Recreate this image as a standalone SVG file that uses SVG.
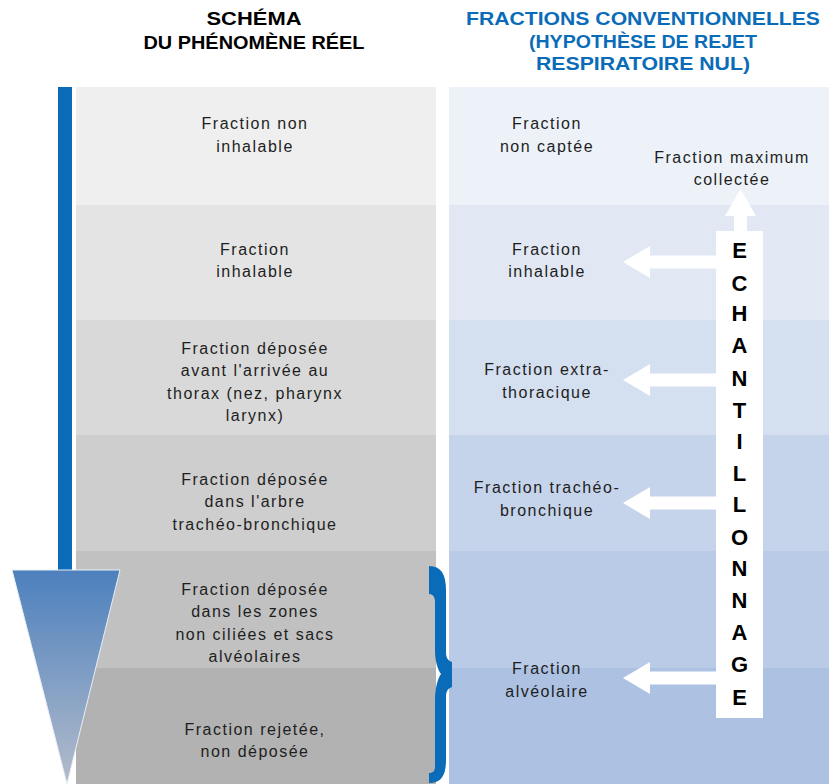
<svg xmlns="http://www.w3.org/2000/svg" width="829" height="784" viewBox="0 0 829 784">
<defs>
<style>
.t{font-family:"Liberation Sans",Arial,sans-serif;font-size:16px;fill:#1e1e1e;text-anchor:middle;letter-spacing:1.5px}
.h{font-family:"Liberation Sans",Arial,sans-serif;font-size:18px;font-weight:bold;text-anchor:middle}
.e{font-family:"Liberation Sans",Arial,sans-serif;font-size:22px;font-weight:bold;fill:#000;text-anchor:middle}
.arr{fill:#fff}
</style>
<linearGradient id="tri" x1="0" y1="0" x2="0" y2="1">
<stop offset="0" stop-color="#4c80bd"/>
<stop offset="1" stop-color="#b4bccb"/>
</linearGradient>
</defs>
<rect width="829" height="784" fill="#fff"/>
<g id="headers">
<text class="h" x="254" y="25" fill="#000" textLength="95" lengthAdjust="spacingAndGlyphs">SCHÉMA</text>
<text class="h" x="254" y="49" fill="#000" textLength="221" lengthAdjust="spacingAndGlyphs">DU PHÉNOMÈNE RÉEL</text>
<text class="h" x="643" y="25" fill="#0a6cb8" textLength="354" lengthAdjust="spacingAndGlyphs">FRACTIONS CONVENTIONNELLES</text>
<text class="h" x="643" y="48" fill="#0a6cb8" textLength="228" lengthAdjust="spacingAndGlyphs">(HYPOTHÈSE DE REJET</text>
<text class="h" x="643" y="70" fill="#0a6cb8" textLength="214" lengthAdjust="spacingAndGlyphs">RESPIRATOIRE NUL)</text>
</g>
<g id="left-column">
<g id="l1"><rect x="76" y="87" width="360" height="118" fill="#efefef"/><text class="t" x="255" y="129">Fraction non</text><text class="t" x="255" y="152">inhalable</text></g>
<g id="l2"><rect x="76" y="205" width="360" height="115" fill="#e4e4e4"/><text class="t" x="255" y="255">Fraction</text><text class="t" x="255" y="277">inhalable</text></g>
<g id="l3"><rect x="76" y="320" width="360" height="115" fill="#d9d9d9"/><text class="t" x="255" y="354">Fraction déposée</text><text class="t" x="255" y="376">avant l'arrivée au</text><text class="t" x="255" y="399">thorax (nez, pharynx</text><text class="t" x="255" y="421">larynx)</text></g>
<g id="l4"><rect x="76" y="435" width="360" height="116" fill="#cecece"/><text class="t" x="255" y="485">Fraction déposée</text><text class="t" x="255" y="507">dans l'arbre</text><text class="t" x="255" y="530">trachéo-bronchique</text></g>
<g id="l5"><rect x="76" y="551" width="360" height="117" fill="#c1c1c1"/><text class="t" x="255" y="595">Fraction déposée</text><text class="t" x="255" y="617">dans les zones</text><text class="t" x="255" y="640">non ciliées et sacs</text><text class="t" x="255" y="662">alvéolaires</text></g>
<g id="l6"><rect x="76" y="668" width="360" height="116" fill="#b2b2b2"/><text class="t" x="255" y="735">Fraction rejetée,</text><text class="t" x="255" y="757">non déposée</text></g>
</g>
<g id="right-column">
<g id="r1"><rect x="449" y="87" width="380" height="118" fill="#edf2f9"/><text class="t" x="547" y="129">Fraction</text><text class="t" x="547" y="152">non captée</text></g>
<g id="r2"><rect x="449" y="205" width="380" height="115" fill="#e1e8f4"/><text class="t" x="547" y="255">Fraction</text><text class="t" x="547" y="277">inhalable</text></g>
<g id="r3"><rect x="449" y="320" width="380" height="115" fill="#d4dff0"/><text class="t" x="547" y="375">Fraction extra-</text><text class="t" x="547" y="398">thoracique</text></g>
<g id="r4"><rect x="449" y="435" width="380" height="116" fill="#c6d4eb"/><text class="t" x="547" y="493">Fraction trachéo-</text><text class="t" x="547" y="516">bronchique</text></g>
<g id="r5"><rect x="449" y="551" width="380" height="117" fill="#b9cbe7"/></g>
<g id="r6"><rect x="449" y="668" width="380" height="116" fill="#adc2e3"/></g>
<g id="r-alv"><text class="t" x="547" y="674">Fraction</text><text class="t" x="547" y="697">alvéolaire</text></g>
<g id="r-max"><text class="t" x="732" y="163">Fraction maximum</text><text class="t" x="732" y="185">collectée</text></g>
</g>
<g id="flow-indicator">
<rect x="58" y="87" width="14" height="484" fill="#0a6cb8"/>
<polygon points="12,570 120,570 67,784" fill="url(#tri)" stroke="#e8eef6" stroke-width="1"/>
</g>
<g id="brace">
<path d="M429,566 C441,566 446,574 446,590 L446,652 C446,659 449,661 452,662 L452,687 C449,688 446,690 446,697 L446,760 C446,776 441,783 429,783 L429,773 C433,773 435,771 435,766 L435,700 C435,688 438,678 441,674 C438,670 435,662 435,650 L435,602 C435,597 433,594 429,594 Z" fill="#0a6cb8"/>
</g>
<g id="connectors">
<polygon class="arr" points="734,231 734,216 725,216 740.5,189 756,216 747,216 747,231"/>
<polygon class="arr" points="716,255.5 650,255.5 650,246 623,262 650,278 650,268.5 716,268.5"/>
<polygon class="arr" points="716,373.5 650,373.5 650,364 623,380 650,396 650,386.5 716,386.5"/>
<polygon class="arr" points="716,496.5 650,496.5 650,487 623,503 650,519 650,509.5 716,509.5"/>
<polygon class="arr" points="716,671.5 650,671.5 650,662 623,678 650,694 650,684.5 716,684.5"/>
</g>
<g id="echantillonnage">
<rect x="716" y="231" width="47" height="487" fill="#fff"/>
<text class="e" x="739.5" y="258">E</text>
<text class="e" x="739.5" y="291">C</text>
<text class="e" x="739.5" y="321">H</text>
<text class="e" x="739.5" y="353">A</text>
<text class="e" x="739.5" y="386">N</text>
<text class="e" x="739.5" y="418">T</text>
<text class="e" x="739.5" y="449">I</text>
<text class="e" x="739.5" y="481">L</text>
<text class="e" x="739.5" y="512">L</text>
<text class="e" x="739.5" y="545">O</text>
<text class="e" x="739.5" y="576">N</text>
<text class="e" x="739.5" y="608">N</text>
<text class="e" x="739.5" y="640">A</text>
<text class="e" x="739.5" y="672">G</text>
<text class="e" x="739.5" y="705">E</text>
</g>
</svg>
